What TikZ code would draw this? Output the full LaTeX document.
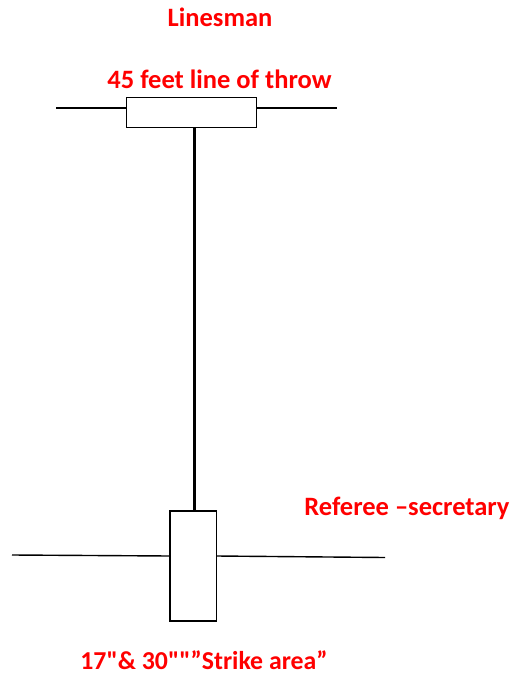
\documentclass[tikz,border=0pt]{standalone}
\usepackage{fontspec}
\setmainfont{Carlito}[Ligatures=TeXOff]
\definecolor{lbl}{RGB}{255,0,0}
\begin{document}
\begin{tikzpicture}[x=1pt,y=-1pt,
  lab/.style={text=lbl,font=\bfseries\fontsize{26.5}{30}\selectfont,inner sep=0pt,anchor=center},
  thin line/.style={line width=1.4pt},
  box/.style={draw,line width=1.4pt,fill=white}]
\useasboundingbox (0,0) rectangle (511,676);
\node[lab] (lines) at (220,17) {Linesman};
\node[lab] (throw) at (219.5,79) {45 feet line of throw};
\node[lab] (ref) at (407,508) {Referee –secretary};
\node[lab,font=\bfseries\fontsize{25.8}{28}\selectfont] (strike) at (204,660) {17"\& 30""”Strike area”};
\coordinate (tl) at (56,108);
\coordinate (tr) at (337,108);
\coordinate (bl) at (12,555);
\coordinate (br) at (385,557.5);
\draw[line width=3pt] (194,127) coordinate (vtop) -- (194,511) coordinate (vbot);
\draw[thin line] (tl) -- (126.5,108);
\draw[thin line] (256.5,108) -- (tr);
\draw[thin line] (bl) -- (170,556);
\draw[thin line] (216.5,556) -- (br);
\node[box,minimum width=130pt,minimum height=30pt,inner sep=0pt] (topbox) at (191.5,112.5) {};
\node[box,minimum width=46.5pt,minimum height=110pt,inner sep=0pt] (botbox) at (193.3,566) {};
\end{tikzpicture}
\end{document}
